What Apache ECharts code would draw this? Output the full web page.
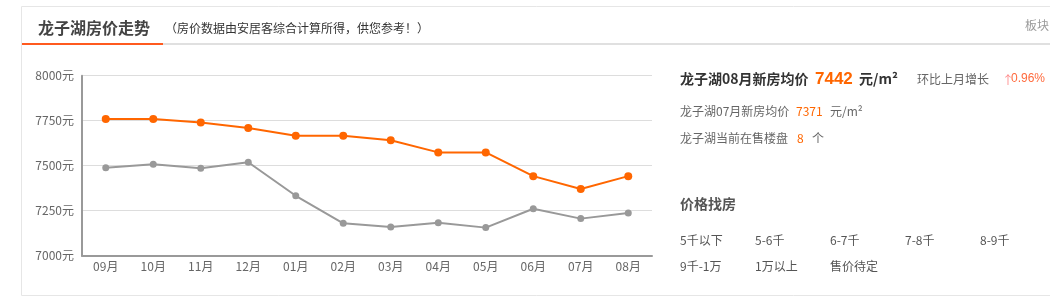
<!DOCTYPE html>
<html><head><meta charset="utf-8">
<script src="https://cdn.jsdelivr.net/npm/echarts@6/dist/echarts.min.js"></script>
<style>html,body{margin:0;padding:0;background:#fff}#c{width:1050px;height:298px}</style>
</head><body><div id="c"></div>
<script>
const months = ['09月','10月','11月','12月','01月','02月','03月','04月','05月','06月','07月','08月'];
const areaPrice = [7760,7760,7740,7710,7667,7667,7641,7574,7574,7442,7371,7442];
const cityPrice = [7489,7508,7486,7519,7333,7180,7159,7183,7156,7261,7206,7237];
const yTicks = [7000,7250,7500,7750,8000];
const priceLinks = [['5千以下','5-6千','6-7千','7-8千','8-9千'],['9千-1万','1万以上','售价待定']];

const F = '"Microsoft YaHei","Noto Sans CJK SC",sans-serif';
const A = 'Arial,"Liberation Sans",sans-serif';
const chart = echarts.init(document.getElementById('c'), null, {renderer:'canvas'});
function t(x,y,text,size,color,weight,align,fam){
  return {type:'text',x:x,y:y,style:{text:text,fontSize:size,fill:color,fontWeight:weight||'normal',fontFamily:fam||F,textVerticalAlign:'middle',textAlign:align||'left'}};
}
const g = [
  {type:'rect',shape:{x:21.5,y:6.5,width:1040,height:289},style:{fill:'none',stroke:'#e6e6e6',lineWidth:1}},
  {type:'rect',shape:{x:163,y:43,width:900,height:2},style:{fill:'#e0e0e0'}},
  {type:'rect',shape:{x:22,y:43,width:141,height:2},style:{fill:'#ff5a1f'}},
  t(38,28,'龙子湖房价走势',16,'#444','bold'),
  t(165,28,'（房价数据由安居客综合计算所得，供您参考！）',12,'#333'),
  t(1025,25,'板块',12,'#999'),
  t(680,79,'龙子湖08月新房均价',14,'#333','bold'),
  t(815,79,'7442',17,'#ff6600','bold','left',A),
  t(859,79,'元/m²',14,'#333','bold'),
  t(917,79,'环比上月增长',12,'#666'),
  t(1002,80,'↑',12,'#ff8a8a'),
  t(1011,79,'0.96%',12,'#ff6a3d','normal','left',A),
  t(680,111,'龙子湖07月新房均价',12,'#666'),
  t(796,111,'7371',12,'#ff6600'),
  t(830,111,'元/m²',12,'#666'),
  t(680,138,'龙子湖当前在售楼盘',12,'#666'),
  t(797,138,'8',12,'#ff6600'),
  t(812,138,'个',12,'#666'),
  t(680,204,'价格找房',14,'#555','bold')
];
const linkX = [680,755,830,905,980];
const linkY = [240,266];
priceLinks.forEach((row,r)=>row.forEach((s,i)=>g.push(t(linkX[i],linkY[r],s,12,'#555'))));

chart.setOption({
  animation:false,
  grid:{left:82,top:75.7,width:570,height:180,containLabel:false},
  xAxis:{type:'category',data:months,boundaryGap:true,
    axisLine:{lineStyle:{color:'#999',width:2}},axisTick:{show:false},
    axisLabel:{color:'#666',fontSize:12,fontFamily:F,margin:5}},
  yAxis:{type:'value',min:yTicks[0],max:yTicks[yTicks.length-1],interval:250,
    axisLine:{show:true,lineStyle:{color:'#999',width:2}},axisTick:{show:false},
    splitLine:{lineStyle:{color:'#ddd',width:1}},
    axisLabel:{color:'#666',fontSize:12,fontFamily:F,margin:8,formatter:v=>v+'元'}},
  series:[
    {type:'line',data:cityPrice,symbol:'circle',symbolSize:7,itemStyle:{color:'#999'},lineStyle:{color:'#999',width:2}},
    {type:'line',data:areaPrice,symbol:'circle',symbolSize:8,itemStyle:{color:'#ff6600'},lineStyle:{color:'#ff6600',width:2}}
  ],
  graphic:g
});
</script></body></html>
